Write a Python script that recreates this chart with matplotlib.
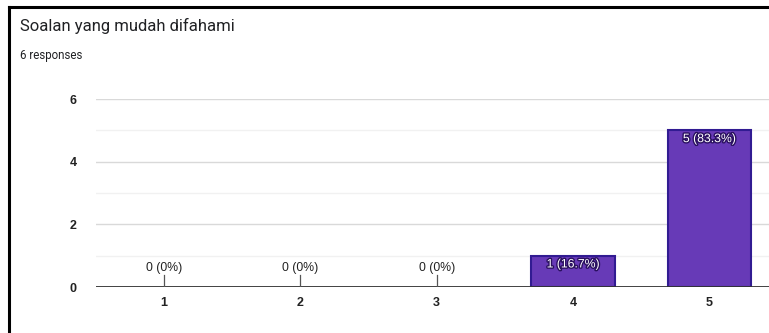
import matplotlib
matplotlib.use("Agg")
import matplotlib.pyplot as plt
import matplotlib.patheffects as pe
from matplotlib.lines import Line2D

categories = ["1", "2", "3", "4", "5"]
counts = [0, 0, 0, 1, 5]
labels = ["0 (0%)", "0 (0%)", "0 (0%)", "1 (16.7%)", "5 (83.3%)"]
yticks = [0, 2, 4, 6]

W, H = 769, 333
fig = plt.figure(figsize=(W / 100, H / 100), dpi=100)
fig.patch.set_facecolor("white")

# frame lines of the screenshot
fig.add_artist(Line2D([9 / W, 9 / W], [0, 1 - 7 / H], color="black", lw=2.2, transform=fig.transFigure))
fig.add_artist(Line2D([9 / W, 1], [1 - 7 / H, 1 - 7 / H], color="black", lw=2.2, transform=fig.transFigure))

fig.text(20 / W, 1 - 26 / H, "Soalan yang mudah difahami", fontsize=12, family="Roboto",
         va="center", ha="left", color="#202124")
fig.text(20 / W, 1 - 55 / H, "6 responses", fontsize=8.3, family="Roboto",
         va="center", ha="left", color="#202124")

left = 96 / W
width = 5 * 136.3 / W
bottom = (H - 287) / H
height = 188 / H
ax = fig.add_axes([left, bottom, width, height])

x = list(range(1, len(categories) + 1))
ax.set_xlim(0.5, 5.5)
ax.set_ylim(0, 6)

for v in [1, 3, 5]:
    ax.axhline(v, color="#f1f1f1", lw=1, zorder=0)
for v in [2, 4, 6]:
    ax.axhline(v, color="#d9d9d9", lw=1, zorder=0)

edge_w = [1.5 if c > 0 else 0 for c in counts]
ax.bar(x, counts, width=0.61, color="#673ab7", edgecolor="#311b92", linewidth=edge_w, zorder=2)
ax.axhline(0, color="#333333", lw=1.3, zorder=3)

for xi, c, lab in zip(x, counts, labels):
    if c == 0:
        ax.plot([xi, xi], [0, 0.38], color="#555555", lw=0.9, zorder=3)
        ax.text(xi, 0.6, lab, ha="center", va="center", fontsize=8.8,
                family="Liberation Sans", color="#222222")
    else:
        t = ax.text(xi, c - 0.28, lab, ha="center", va="center", fontsize=8.8,
                    family="Liberation Sans", color="white", zorder=4)
        t.set_path_effects([pe.withStroke(linewidth=2, foreground="#2a1060")])

for s in ax.spines.values():
    s.set_visible(False)
ax.set_xticks(x)
ax.set_xticklabels(categories)
ax.set_yticks(yticks)
ax.tick_params(length=0, labelsize=9, colors="#222222", pad=7)
ax.tick_params(axis="y", pad=14)
for lbl in ax.get_xticklabels() + ax.get_yticklabels():
    lbl.set_family("Liberation Sans")
    lbl.set_weight("bold")

fig.savefig("out.png", dpi=100)
